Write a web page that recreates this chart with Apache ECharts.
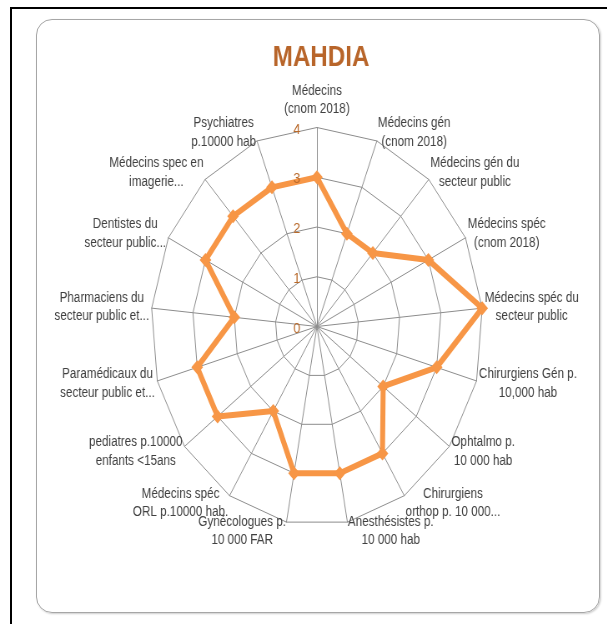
<!DOCTYPE html>
<html><head><meta charset="utf-8">
<script src="https://cdn.jsdelivr.net/npm/echarts@6/dist/echarts.min.js"></script>
<style>
html,body{margin:0;padding:0;overflow:hidden;background:#fff;width:607px;height:624px;}
#wrap{position:relative;width:607px;height:624px;overflow:hidden;background:#fff;}
#ftop{position:absolute;left:10px;top:7px;width:597px;height:2px;background:#000;}
#fleft{position:absolute;left:10px;top:7px;width:2px;height:617px;background:#000;}
#card{position:absolute;left:36px;top:19px;width:562px;height:592px;border:1.5px solid #a6a6a6;border-radius:16px;box-shadow:1px 1px 2px rgba(0,0,0,0.2);}
#chart{position:absolute;left:0;top:0;width:728px;height:624px;transform:scaleX(0.834);transform-origin:0 0;}
</style></head><body>
<div id="wrap"><div id="ftop"></div><div id="fleft"></div><div id="card"></div><div id="chart"></div></div>
<script>
// ---- data ----
const title = 'MAHDIA';
const categories = [
  'Médecins\n(cnom 2018)',
  'Médecins gén\n(cnom 2018)',
  'Médecins gén du\nsecteur public',
  'Médecins spéc\n(cnom 2018)',
  'Médecins spéc du\nsecteur public',
  'Chirurgiens Gén p.\n10,000 hab',
  'Ophtalmo p.\n10 000 hab',
  'Chirurgiens\northop p. 10 000...',
  'Anesthésistes p.\n10 000 hab',
  'Gynécologues p.\n10 000 FAR',
  'Médecins spéc\nORL p.10000 hab.',
  'pediatres p.10000\nenfants <15ans',
  'Paramédicaux du\nsecteur public et...',
  'Pharmaciens du\nsecteur public et...',
  'Dentistes du\nsecteur public...',
  'Médecins spec en\nimagerie...',
  'Psychiatres\np.10000 hab'
];
const values = [3, 2, 2, 3, 4, 3, 2, 3, 3, 3, 2, 3, 3, 2, 3, 3, 3];
const tickValues = [0, 1, 2, 3, 4];

// ---- layout (unscaled chart coords) ----
const CX = 380, CY = 326.5, R = 199;
const FONT = '"Liberation Sans", Arial, sans-serif';
const NAME_GAP = 3;      // gap from the outer ring
const NAME_LIFT = 6;     // extra Excel-like vertical push (scaled by cos of angle)
const N = categories.length;

// ECharts radar lays indicators counter-clockwise; reference is clockwise.
const order = [0];
for (let i = N - 1; i >= 1; i--) order.push(i);

const vMin = tickValues[0], vMax = tickValues[tickValues.length - 1];
const vStep = tickValues[1] - tickValues[0];

const nameStyle = {color: '#404040', fontSize: 14, fontFamily: FONT, lineHeight: 18.5};
const rich = {c: Object.assign({align: 'center'}, nameStyle)};
const shiftOf = i => -NAME_LIFT * Math.cos(i * 2 * Math.PI / N); // + = down
for (let i = 0; i < N; i++) {
  const s = Math.abs(shiftOf(i));
  rich['sp' + i] = {fontSize: 1, lineHeight: i === 0 ? s : 2 * s};
}
function nameFormatter(n) {
  const i = categories.indexOf(n);
  const lines = n.split('\n').map(l => '{c|' + l + '}');
  const s = shiftOf(i);
  if (Math.abs(s) >= 0.4) {
    if (s < 0) lines.push('{sp' + i + '| }');
    else lines.unshift('{sp' + i + '| }');
  }
  return lines.join('\n');
}

const chart = echarts.init(document.getElementById('chart'), null, {renderer: 'canvas'});
chart.setOption({
  animation: false,
  backgroundColor: 'transparent',
  title: {
    text: title, left: CX, top: 38, textAlign: 'center',
    textStyle: {color: '#B8652A', fontSize: 29, fontWeight: 'bold', fontFamily: FONT}
  },
  grid: {left: CX, top: CY - R + 2, width: 1, height: R, containLabel: false, z: 5},
  xAxis: {type: 'value', show: false},
  yAxis: {
    type: 'value', min: vMin, max: vMax, interval: vStep, z: 5,
    axisLine: {show: false}, axisTick: {show: false}, splitLine: {show: false},
    axisLabel: {margin: 20, color: '#B8692A', fontSize: 15, fontFamily: FONT}
  },
  radar: {
    center: [CX, CY], radius: R, startAngle: 90, splitNumber: tickValues.length - 1, shape: 'polygon',
    indicator: order.map(i => ({name: categories[i], min: vMin, max: vMax})),
    nameGap: NAME_GAP,
    axisName: Object.assign({formatter: nameFormatter, rich: rich}, nameStyle),
    axisLine: {lineStyle: {color: '#8c8c8c', width: 1}},
    splitLine: {lineStyle: {color: '#8c8c8c', width: 1}},
    splitArea: {show: false},
    axisTick: {show: false},
    axisLabel: {show: false}
  },
  series: [{
    type: 'radar', z: 3,
    symbol: 'diamond', symbolSize: 14,
    lineStyle: {color: '#F79646', width: 6},
    itemStyle: {color: '#F79646'},
    data: [{value: order.map(i => values[i]), name: title}]
  }]
});
</script>
</body></html>
